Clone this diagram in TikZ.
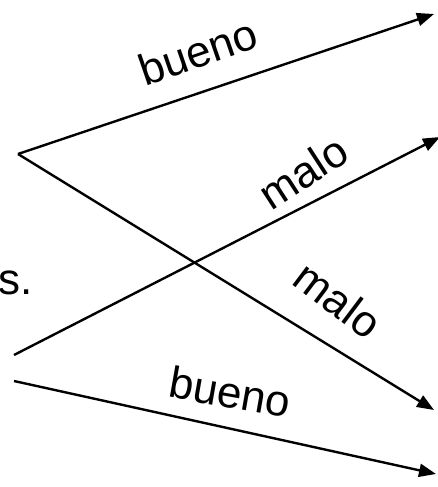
\documentclass[tikz,border=0pt]{standalone}
\usepackage{fontspec}
\setmainfont{Liberation Sans}
\usetikzlibrary{arrows.meta}
\begin{document}
\begin{tikzpicture}[x=1pt,y=-1pt,
  conn/.style={line width=2.4pt,-{Triangle[length=17pt,width=13pt]}},
  lbl/.style={font=\fontsize{44}{44}\selectfont,inner sep=0pt}]
\useasboundingbox (0,0) rectangle (438,487);
\coordinate (a) at (18,154);
\coordinate (b) at (14,355);
\coordinate (c) at (14,381);
\coordinate (t1) at (434,14);
\coordinate (t2) at (434,410);
\coordinate (t3) at (440,137);
\coordinate (t4) at (436,474);
\draw[conn] (a) -- (t1);
\draw[conn] (a) -- (t2);
\draw[conn] (b) -- (t3);
\draw[conn] (c) -- (t4);
\node[lbl,rotate=19] (l1) at (198,52) {bueno};
\node[lbl,rotate=33] (l2) at (303,172) {malo};
\node[lbl,rotate=-37] (l3) at (338,300) {malo};
\node[lbl,rotate=-10] (l4) at (230,392) {bueno};
\node[lbl,anchor=base east] (s) at (33,294) {s.};
\end{tikzpicture}
\end{document}
